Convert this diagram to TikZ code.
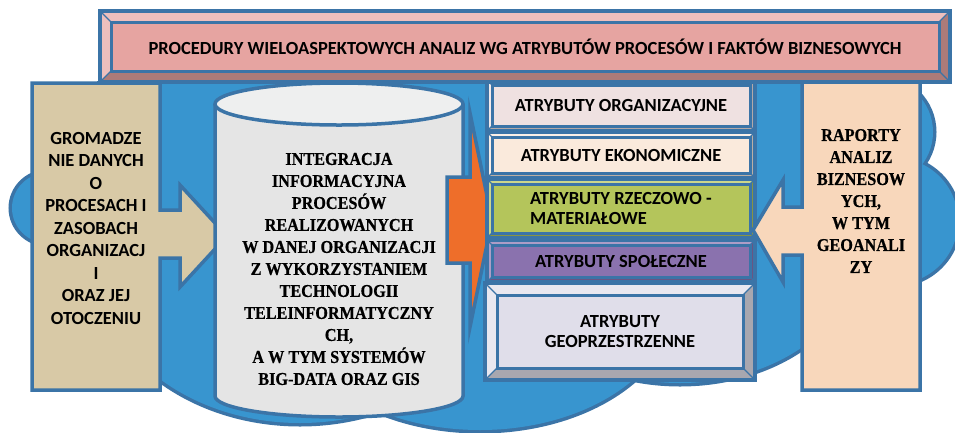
\documentclass[tikz,border=0pt]{standalone}
\usepackage{fontspec}
\setmainfont{Carlito}
\newfontfamily\cambria[FakeStretch=0.9, BoldFeatures={FakeBold=0.6}]{Liberation Serif}

\definecolor{edge}{HTML}{3B74A7}
\definecolor{sky}{HTML}{3895CF}
\definecolor{sand}{HTML}{D8C9A6}
\definecolor{peach}{HTML}{F8D7BB}
\definecolor{cylbody}{HTML}{E5E5E5}
\definecolor{cyltop}{HTML}{EEEFEF}
\definecolor{orng}{HTML}{EE6E2A}
\definecolor{banner}{HTML}{E6A4A1}
\definecolor{bx1}{HTML}{EFE1E1}
\definecolor{bx2}{HTML}{FAEADC}
\definecolor{bx3}{HTML}{B4C55B}
\definecolor{bx4}{HTML}{8A72AE}
\definecolor{bx5}{HTML}{E0DEEA}

\begin{document}
\begin{tikzpicture}[
  x=1pt, y=-1pt,
  frame/.style={draw=edge, line width=3.5pt},
  sanstext/.style={font=\fontsize{18.5}{22.5}\selectfont\bfseries, align=center, inner sep=0pt},
  seriftext/.style={font=\fontsize{18}{22}\selectfont\cambria\bfseries, align=center, inner sep=0pt},
  attr/.style={font=\fontsize{18.5}{20}\selectfont\bfseries, align=center, inner sep=0pt, draw=edge, line width=3pt}
]
\useasboundingbox (0,0) rectangle (955,432);

% bevelled box: x1, y1, x2, y2, bevel, colour, name, options, text
\def\bevbox#1#2#3#4#5#6#7#8#9{%
  \fill[#6!75!black] (#1,#2) rectangle (#3,#4);
  \fill[#6!70!white] (#1,#2) -- (#3,#2) -- ({#3-#5},{#2+#5}) -- ({#1+#5},{#2+#5}) -- ({#1+#5},{#4-#5}) -- (#1,#4) -- cycle;
  \draw[edge, line width=1.2pt] (#1,#2) -- ++(#5,#5) (#3,#2) -- ++(-#5,#5) (#1,#4) -- ++(#5,-#5) (#3,#4) -- ++(-#5,-#5);
  \draw[frame] (#1,#2) rectangle (#3,#4);
  \node[attr, fill=#6, minimum width={#3-#1-2*#5}, minimum height={#4-#2-2*#5}, #8] (#7) at ({(#1+#3)/2},{(#2+#4)/2}) {#9};
}

% cloud in the background
\def\cloudparts{{(47,208) circle[radius=35]}, {(879,132) circle[radius=54]}, {(895,221) circle[radius=63]},
  {(300,260) circle[x radius=205, y radius=163]}, {(480,300) circle[x radius=194, y radius=130]},
  {(680,250) circle[x radius=179, y radius=133]}, {(100,84) rectangle (900,330)}}
\foreach \part in \cloudparts {\draw[edge, line width=7pt] \part;}
\foreach \part in \cloudparts {\fill[sky] \part;}

% input arrow
\draw[frame, fill=sand] (32,83) -- (160,83) -- (160,210) -- (180,210) -- (180,185) -- (227,236)
  -- (180,287) -- (180,258) -- (160,258) -- (160,390) -- (32,390) -- cycle;
\node[sanstext] (gather) at (96,228) {GROMADZE\\NIE DANYCH\\O\\PROCESACH I\\ZASOBACH\\ORGANIZACJ\\I\\ORAZ JEJ\\OTOCZENIU};

% database cylinder
\draw[frame, fill=cylbody] (215,104) -- (215,396) arc[start angle=180, end angle=0, x radius=124, y radius=21] -- (463,104);
\draw[frame, fill=cyltop] (339,104) ellipse[x radius=124, y radius=21];
\node[seriftext] (integ) at (339,269) {INTEGRACJA\\INFORMACYJNA\\PROCESÓW\\REALIZOWANYCH\\W DANEJ ORGANIZACJI\\Z WYKORZYSTANIEM\\TECHNOLOGII\\TELEINFORMATYCZNY\\CH,\\A W TYM SYSTEMÓW\\BIG-DATA ORAZ GIS};

% orange arrow
\draw[frame, fill=orng] (447,177) -- (470,177) -- (470,113) -- (492,220) -- (470,327) -- (470,263) -- (447,263) -- cycle;

% attribute boxes
\bevbox{487}{80}{755}{131}{5}{bx1}{org}{}{ATRYBUTY ORGANIZACYJNE}
\bevbox{487}{132}{755}{178}{5}{bx2}{eko}{}{ATRYBUTY EKONOMICZNE}
\bevbox{487}{179}{755}{238}{5}{bx3}{rze}{align=left}{ATRYBUTY RZECZOWO -\\MATERIAŁOWE}
\bevbox{487}{240}{755}{282}{5}{bx4}{spo}{}{ATRYBUTY SPOŁECZNE}
\bevbox{485}{283}{755}{380}{12}{bx5}{geo}{}{ATRYBUTY\\GEOPRZESTRZENNE}

% output arrow
\draw[frame, fill=peach] (802,77) -- (920,77) -- (920,390) -- (802,390) -- (802,255) -- (783,255) -- (783,282)
  -- (753,230) -- (783,180) -- (783,207) -- (802,207) -- cycle;
\node[seriftext] (raport) at (861,201) {RAPORTY\\ANALIZ\\BIZNESOW\\YCH,\\W TYM\\GEOANALI\\ZY};

% banner
\bevbox{100}{11}{950}{82}{11}{banner}{proc}{}{PROCEDURY WIELOASPEKTOWYCH ANALIZ WG ATRYBUTÓW PROCESÓW I FAKTÓW BIZNESOWYCH}
\end{tikzpicture}
\end{document}
